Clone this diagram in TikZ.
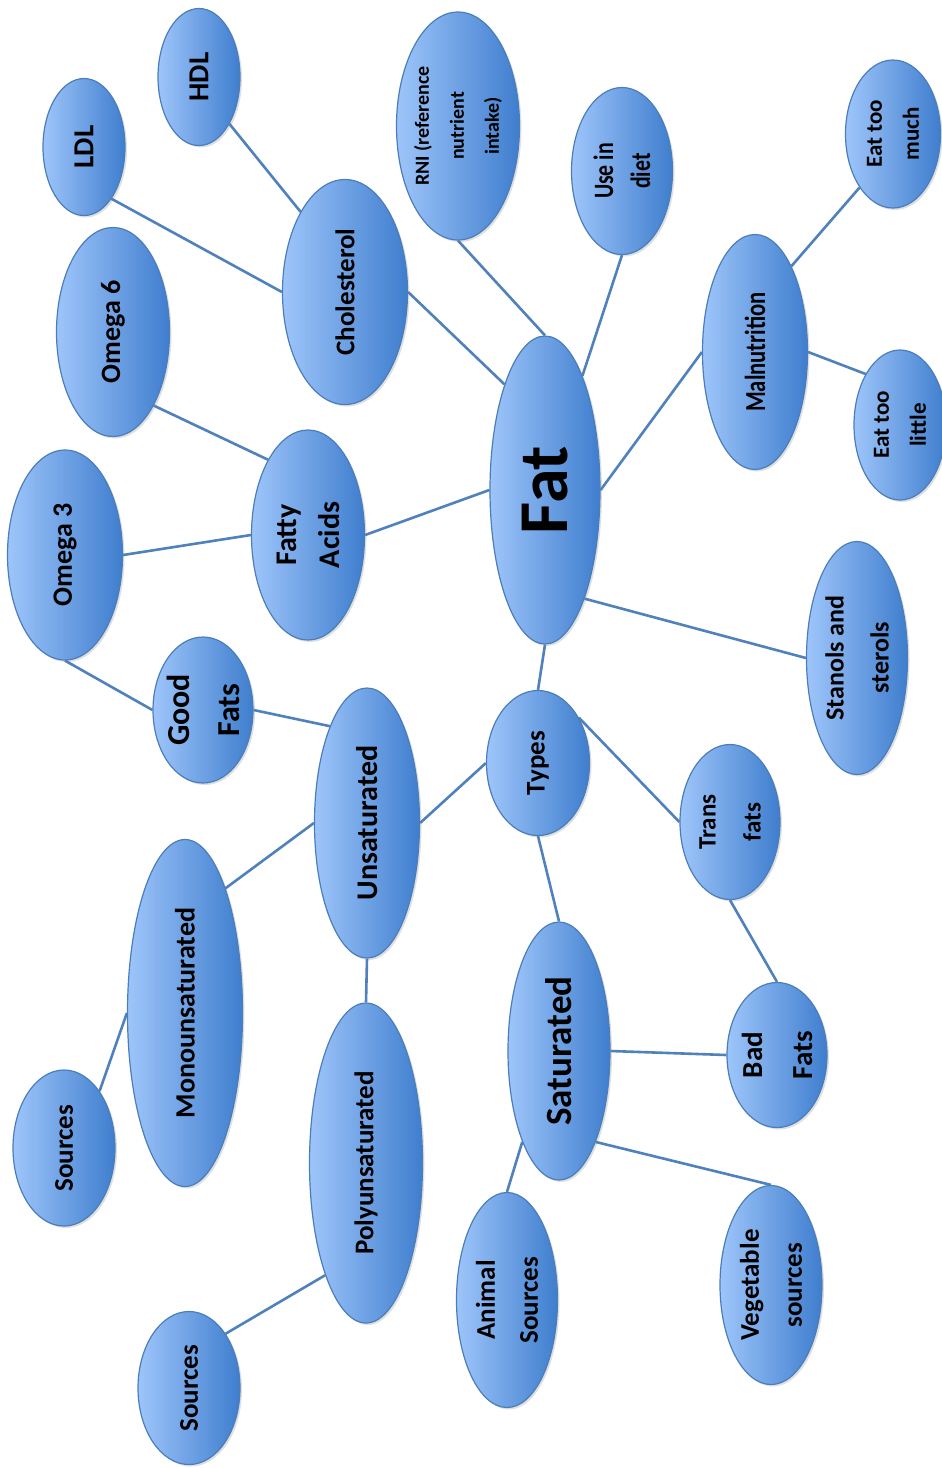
\documentclass[tikz,border=0pt]{standalone}
\usepackage{fontspec}
\setmainfont{Carlito}
\newfontfamily\narrowfont[FakeStretch=0.78]{Carlito}
\usetikzlibrary{shapes.geometric, backgrounds, shadows}
\definecolor{bubblelight}{HTML}{9EC5FA}
\definecolor{bubbledark}{HTML}{3F7ECE}
\definecolor{bubbleedge}{HTML}{4A7EBB}
\definecolor{linkblue}{HTML}{4F81BD}
\newcommand{\fsz}[2]{\fontsize{#1}{#2}\selectfont\bfseries}
\tikzset{
  bubble/.style={ellipse, draw=bubbleedge, line width=1.2pt, rotate=90,
                 left color=bubblelight, right color=bubbledark,
                 inner sep=-20pt, align=center, text=black,
                 drop shadow={opacity=0.25, shadow xshift=2pt, shadow yshift=-2pt}},
  link/.style={draw=linkblue, line width=2.6pt},
}
\begin{document}
\begin{tikzpicture}[x=1pt, y=-1pt]
  \useasboundingbox (0,0) rectangle (942,1468);
  % centre
  \node[bubble, minimum width=308pt, minimum height=110pt, font=\fsz{70}{76}] (fat) at (545,490) {Fat};
  % upper branches
  \node[bubble, minimum width=225pt, minimum height=125pt, font=\fsz{27}{33}] (chol) at (345,292) {Cholesterol};
  \node[bubble, minimum width=137pt, minimum height=82pt, font=\fsz{29}{34}] (hdl) at (199,77) {HDL};
  \node[bubble, minimum width=137pt, minimum height=82pt, font=\fsz{29}{34}] (ldl) at (84,147) {LDL};
  \node[bubble, minimum width=209pt, minimum height=113pt, font=\fsz{28}{32}] (om6) at (113,332) {Omega 6};
  \node[bubble, minimum width=210pt, minimum height=115pt, font=\fsz{28}{32}] (om3) at (65,555) {Omega 3};
  \node[bubble, minimum width=210pt, minimum height=113pt, font=\fsz{30}{43}] (fatty) at (308,535) {Fatty\\Acids};
  \node[bubble, minimum width=228pt, minimum height=123pt, font=\fsz{20}{35}] (rni) at (458,126) {RNI (reference\\nutrient\\intake)};
  \node[bubble, minimum width=167pt, minimum height=101pt, font=\narrowfont\fsz{28}{37}] (use) at (622,171) {Use in\\diet};
  \node[bubble, minimum width=235pt, minimum height=105pt, font=\narrowfont\fsz{29}{33}] (maln) at (755,352) {Malnutrition};
  \node[bubble, minimum width=148pt, minimum height=95pt, font=\fsz{23}{37}] (much) at (893,134) {Eat too\\much};
  \node[bubble, minimum width=150pt, minimum height=92pt, font=\fsz{23}{37}] (little) at (900,425) {Eat too\\little};
  \node[bubble, minimum width=233pt, minimum height=101pt, font=\fsz{26}{45}] (stanols) at (857,658) {Stanols and\\sterols};
  % lower branches
  \node[bubble, minimum width=146pt, minimum height=100pt, font=\fsz{32}{50}] (good) at (203,710) {Good\\Fats};
  \node[bubble, minimum width=270pt, minimum height=105pt, font=\fsz{30}{36}] (unsat) at (367,823) {Unsaturated};
  \node[bubble, minimum width=145pt, minimum height=103pt, font=\fsz{27}{33}] (types) at (538,763) {Types};
  \node[bubble, minimum width=155pt, minimum height=100pt, font=\fsz{25}{45}] (trans) at (730,822) {Trans\\fats};
  \node[bubble, minimum width=347pt, minimum height=115pt, font=\fsz{28}{33}] (mono) at (185,1013) {Monounsaturated};
  \node[bubble, minimum width=320pt, minimum height=113pt, font=\fsz{27}{33}] (poly) at (366,1163) {Polyunsaturated};
  \node[bubble, minimum width=258pt, minimum height=102pt, font=\fsz{37}{42}] (sat) at (559,1051) {Saturated};
  \node[bubble, minimum width=145pt, minimum height=100pt, font=\fsz{29}{50}] (bad) at (777,1055) {Bad\\Fats};
  \node[bubble, minimum width=156pt, minimum height=102pt, font=\fsz{27}{33}] (src1) at (64,1148) {Sources};
  \node[bubble, minimum width=153pt, minimum height=102pt, font=\fsz{27}{33}] (src2) at (189,1388) {Sources};
  \node[bubble, minimum width=215pt, minimum height=101pt, font=\fsz{27}{43}] (animal) at (507,1300) {Animal\\Sources};
  \node[bubble, minimum width=199pt, minimum height=102pt, font=\fsz{27}{43}] (veg) at (771,1285) {Vegetable\\sources};

  \begin{scope}[on background layer]
    \fill[white] (0,0) rectangle (942,1468);
    \draw[link] (chol.south) -- (fat.21);
    \draw[link] (rni.west) -- (fat.east);
    \draw[link] (fat) -- (use.west);
    \draw[link] (fat.south) -- (maln.north);
    \draw[link] (fatty.south) -- (fat.north);
    \draw[link] (fat.200) -- (stanols.north);
    \draw[link] (fat.west) -- (types.east);
    \draw[link] (hdl.213) -- (chol.29);
    \draw[link] (ldl.208) -- (chol.north);
    \draw[link] (om6.209) -- (fatty.28);
    \draw[link] (om3.south) -- (fatty.north);
    \draw[link] (om3.west) -- (good.north);
    \draw[link] (good.south) -- (unsat.21);
    \draw[link] (types.north) -- (unsat.south);
    \draw[link] (types.318) -- (trans.north);
    \draw[link] (types.west) -- (sat.east);
    \draw[link] (trans.west) -- (bad.east);
    \draw[link] (sat.south) -- (bad.north);
    \draw[link] (mono.342) -- (unsat.north);
    \draw[link] (unsat.west) -- (poly.east);
    \draw[link] (src1.328) -- (mono.north);
    \draw[link] (src2.326) -- (poly.160);
    \draw[link] (sat.158) -- (animal.east);
    \draw[link] (sat.202) -- (veg.east);
    \draw[link] (maln.337) -- (much.148);
    \draw[link] (maln.south) -- (little.34);
  \end{scope}
\end{tikzpicture}
\end{document}
